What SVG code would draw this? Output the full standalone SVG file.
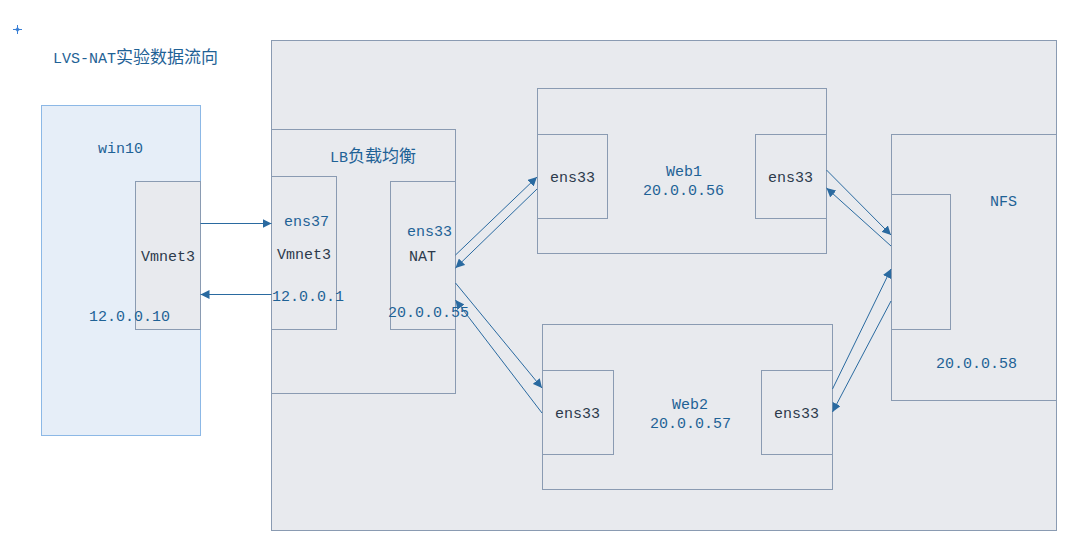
<svg xmlns="http://www.w3.org/2000/svg" width="1067" height="551" viewBox="0 0 1067 551">
<defs>
<style>
.box{fill:#e8eaee;stroke:#8a9bb2;stroke-width:1}
.win{fill:#e6eef8;stroke:#8cb8e6;stroke-width:1}
.t{font-family:"Liberation Mono","DejaVu Sans Mono",monospace;font-size:15px}
.b{fill:#1f6296}
.d{fill:#2d3a4c}
.cjk{font-family:"Noto Sans CJK SC",sans-serif;font-size:17px}
.c{stroke:#2a6aa0;stroke-width:1;fill:none;marker-end:url(#ah)}
</style>
<marker id="ah" viewBox="0 0 10 10" refX="10" refY="5" markerWidth="9" markerHeight="9" markerUnits="userSpaceOnUse" orient="auto">
<path d="M0,0 L10,5 L0,10 z" fill="#2a6aa0"/>
</marker>
</defs>
<rect width="1067" height="551" fill="#ffffff"/>
<g id="cursor" stroke="#3a7fd5" stroke-width="1" fill="none">
<path d="M13,29.5 H22 M17.5,25 V34"/>
<circle cx="17.5" cy="29.5" r="1.5"/>
</g>
<g id="title">
<text class="t b" x="53" y="63">LVS-NAT<tspan class="cjk">实验数据流向</tspan></text>
</g>
<g id="network">
<rect class="box" x="271.5" y="40.5" width="785" height="490"/>
</g>
<g id="win10">
<rect class="win" x="41.5" y="105.5" width="159" height="330"/>
<text class="t b" x="98" y="153">win10</text>
</g>
<g id="win10-vmnet3">
<rect class="box" x="135.5" y="181.5" width="65" height="148"/>
<text class="t d" x="141" y="261">Vmnet3</text>
<text class="t b" x="89" y="321">12.0.0.10</text>
</g>
<g id="lb">
<rect class="box" x="271.5" y="129.5" width="184" height="264"/>
<text class="t b" x="330" y="162">LB<tspan class="cjk">负载均衡</tspan></text>
</g>
<g id="lb-ens37">
<rect class="box" x="271.5" y="176.5" width="65" height="153"/>
<text class="t b" x="284" y="226">ens37</text>
<text class="t d" x="277" y="259">Vmnet3</text>
<text class="t b" x="272" y="301">12.0.0.1</text>
</g>
<g id="lb-ens33">
<rect class="box" x="390.5" y="181.5" width="65" height="148"/>
<text class="t b" x="407" y="236">ens33</text>
<text class="t d" x="409" y="261">NAT</text>
<text class="t b" x="388" y="317">20.0.0.55</text>
</g>
<g id="web1">
<rect class="box" x="537.5" y="88.5" width="289" height="165"/>
<text class="t b" x="666" y="176">Web1</text>
<text class="t b" x="643" y="195">20.0.0.56</text>
</g>
<g id="web1-ens33-left">
<rect class="box" x="537.5" y="134.5" width="70" height="84"/>
<text class="t d" x="550" y="182">ens33</text>
</g>
<g id="web1-ens33-right">
<rect class="box" x="755.5" y="134.5" width="71" height="84"/>
<text class="t d" x="768" y="182">ens33</text>
</g>
<g id="web2">
<rect class="box" x="542.5" y="324.5" width="290" height="165"/>
<text class="t b" x="672" y="409">Web2</text>
<text class="t b" x="650" y="428">20.0.0.57</text>
</g>
<g id="web2-ens33-left">
<rect class="box" x="542.5" y="370.5" width="71" height="84"/>
<text class="t d" x="555" y="418">ens33</text>
</g>
<g id="web2-ens33-right">
<rect class="box" x="761.5" y="370.5" width="71" height="84"/>
<text class="t d" x="774" y="418">ens33</text>
</g>
<g id="nfs">
<rect class="box" x="891.5" y="134.5" width="165" height="266"/>
<text class="t b" x="990" y="206">NFS</text>
<text class="t b" x="936" y="368">20.0.0.58</text>
</g>
<g id="nfs-if">
<rect class="box" x="891.5" y="194.5" width="59" height="135"/>
</g>
<g id="connectors">
<line class="c" x1="200.5" y1="223.5" x2="271.5" y2="223.5"/>
<line class="c" x1="271.5" y1="294.5" x2="200.5" y2="294.5"/>
<line class="c" x1="455.5" y1="255" x2="537" y2="177"/>
<line class="c" x1="537" y1="189" x2="455.5" y2="268"/>
<line class="c" x1="455.5" y1="283" x2="542" y2="388"/>
<line class="c" x1="542" y1="413" x2="455.5" y2="300"/>
<line class="c" x1="826.5" y1="170" x2="891" y2="235"/>
<line class="c" x1="891" y1="246" x2="826.5" y2="188"/>
<line class="c" x1="832.5" y1="389" x2="891" y2="269"/>
<line class="c" x1="891" y1="301" x2="832.5" y2="412"/>
</g>
</svg>
